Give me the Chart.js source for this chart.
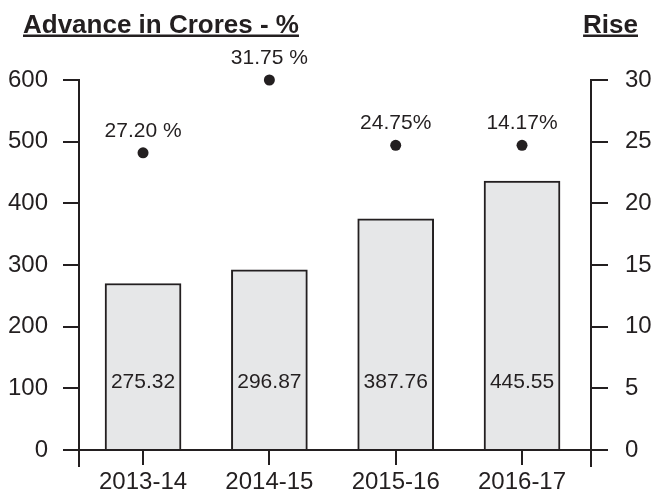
<!DOCTYPE html>
<html>
<head>
<meta charset="utf-8">
<script src="https://cdn.jsdelivr.net/npm/chart.js@4.4.0/dist/chart.umd.min.js"></script>
<style>
  html, body { margin: 0; padding: 0; background: #ffffff; }
  #wrap { width: 655px; height: 495px; position: relative; }
</style>
</head>
<body>
<div id="wrap"><canvas id="c" width="655" height="495"></canvas></div>
<script>
// ---- data ----
const categories = ['2013-14', '2014-15', '2015-16', '2016-17'];
const advanceBars = [270, 292, 375, 436];          // drawn bar heights (left axis)
const advanceLabels = ['275.32', '296.87', '387.76', '445.55'];
const risePoints = [24.1, 30, 24.7, 24.7];         // drawn point positions (right axis)
const riseLabels = ['27.20 %', '31.75 %', '24.75%', '14.17%'];
const leftTicks = [0, 100, 200, 300, 400, 500, 600];
const rightTicks = [0, 5, 10, 15, 20, 25, 30];
const titleLeft = 'Advance in Crores - %';
const titleRight = 'Rise';

const INK = '#231f20';
const FONT = "'Liberation Sans', Arial, Helvetica, sans-serif";
Chart.defaults.font.family = FONT;
Chart.defaults.color = INK;

const decor = {
  id: 'decor',
  afterDatasetsDraw(chart) {
    const ctx = chart.ctx;
    const xs = chart.scales.x, y = chart.scales.y, y1 = chart.scales.y1;
    ctx.save();
    ctx.fillStyle = INK;
    ctx.textAlign = 'center';
    // bar value labels
    ctx.font = '21px ' + FONT;
    ctx.textBaseline = 'middle';
    advanceLabels.forEach((t, i) => {
      ctx.fillText(t, xs.getPixelForValue(i), y.getPixelForValue(110));
    });
    // point labels
    ctx.textBaseline = 'alphabetic';
    riseLabels.forEach((t, i) => {
      ctx.fillText(t, xs.getPixelForValue(i), y1.getPixelForValue(risePoints[i]) - 16);
    });
    ctx.restore();
  },
  afterDraw(chart) {
    const ctx = chart.ctx;
    const ca = chart.chartArea;
    ctx.save();
    ctx.strokeStyle = INK;
    ctx.lineWidth = 2;
    // axis extensions below the x axis
    [chart.scales.y.right, chart.scales.y1.left].forEach(px => {
      ctx.beginPath();
      ctx.moveTo(px, ca.bottom);
      ctx.lineTo(px, ca.bottom + 17);
      ctx.stroke();
    });
    // titles
    ctx.fillStyle = INK;
    ctx.font = 'bold 26px ' + FONT;
    ctx.textBaseline = 'alphabetic';
    ctx.textAlign = 'left';
    const w1 = ctx.measureText(titleLeft).width;
    ctx.fillText(titleLeft, 23, 33);
    ctx.fillRect(23, 34.5, w1, 2.5);
    ctx.textAlign = 'right';
    const w2 = ctx.measureText(titleRight).width;
    ctx.fillText(titleRight, 638, 33);
    ctx.fillRect(638 - w2, 34.5, w2, 2.5);
    ctx.restore();
  }
};

new Chart(document.getElementById('c'), {
  type: 'bar',
  data: {
    datasets: [
      {
        type: 'line',
        label: 'Rise',
        data: categories.map((c, i) => ({ x: i, y: risePoints[i] })),
        yAxisID: 'y1',
        showLine: false,
        clip: false,
        pointRadius: 5.5,
        pointBackgroundColor: INK,
        pointBorderColor: INK,
        pointBorderWidth: 0,
        order: 0
      },
      {
        type: 'bar',
        label: 'Advance',
        data: categories.map((c, i) => ({ x: i, y: advanceBars[i] })),
        yAxisID: 'y',
        backgroundColor: '#e6e7e8',
        borderColor: INK,
        borderWidth: 2,
        barThickness: 76,
        order: 1
      }
    ]
  },
  options: {
    responsive: false,
    animation: false,
    devicePixelRatio: 1,
    layout: { padding: { top: 80, left: 0, right: 0, bottom: 0 } },
    plugins: { legend: { display: false }, tooltip: { enabled: false }, title: { display: false } },
    scales: {
      x: {
        type: 'linear',
        min: -0.507,
        max: 3.546,
        offset: false,
        afterBuildTicks: (s) => { s.ticks = categories.map((c, i) => ({ value: i })); },
        afterFit: (s) => { s.height = 45; },
        ticks: {
          callback: (v) => categories[v],
          font: { size: 24 },
          color: INK,
          padding: 3,
          maxRotation: 0,
          autoSkip: false
        },
        grid: { offset: false, drawOnChartArea: false, color: INK, lineWidth: 2, tickLength: 15 },
        border: { display: true, color: INK, width: 2 }
      },
      y: {
        position: 'left',
        min: 0,
        max: 600,
        afterBuildTicks: (s) => { s.ticks = leftTicks.map(v => ({ value: v })); },
        afterFit: (s) => { s.width = 79; },
        ticks: { font: { size: 24 }, color: INK, padding: 15 },
        grid: { drawOnChartArea: false, color: INK, lineWidth: 2, tickLength: 16 },
        border: { display: true, color: INK, width: 2 }
      },
      y1: {
        position: 'right',
        min: 0,
        max: 30,
        afterBuildTicks: (s) => { s.ticks = rightTicks.map(v => ({ value: v })); },
        afterFit: (s) => { s.width = 64; },
        ticks: { font: { size: 24 }, color: INK, padding: 17 },
        grid: { drawOnChartArea: false, color: INK, lineWidth: 2, tickLength: 17 },
        border: { display: true, color: INK, width: 2 }
      }
    }
  },
  plugins: [decor]
});
</script>
</body>
</html>
